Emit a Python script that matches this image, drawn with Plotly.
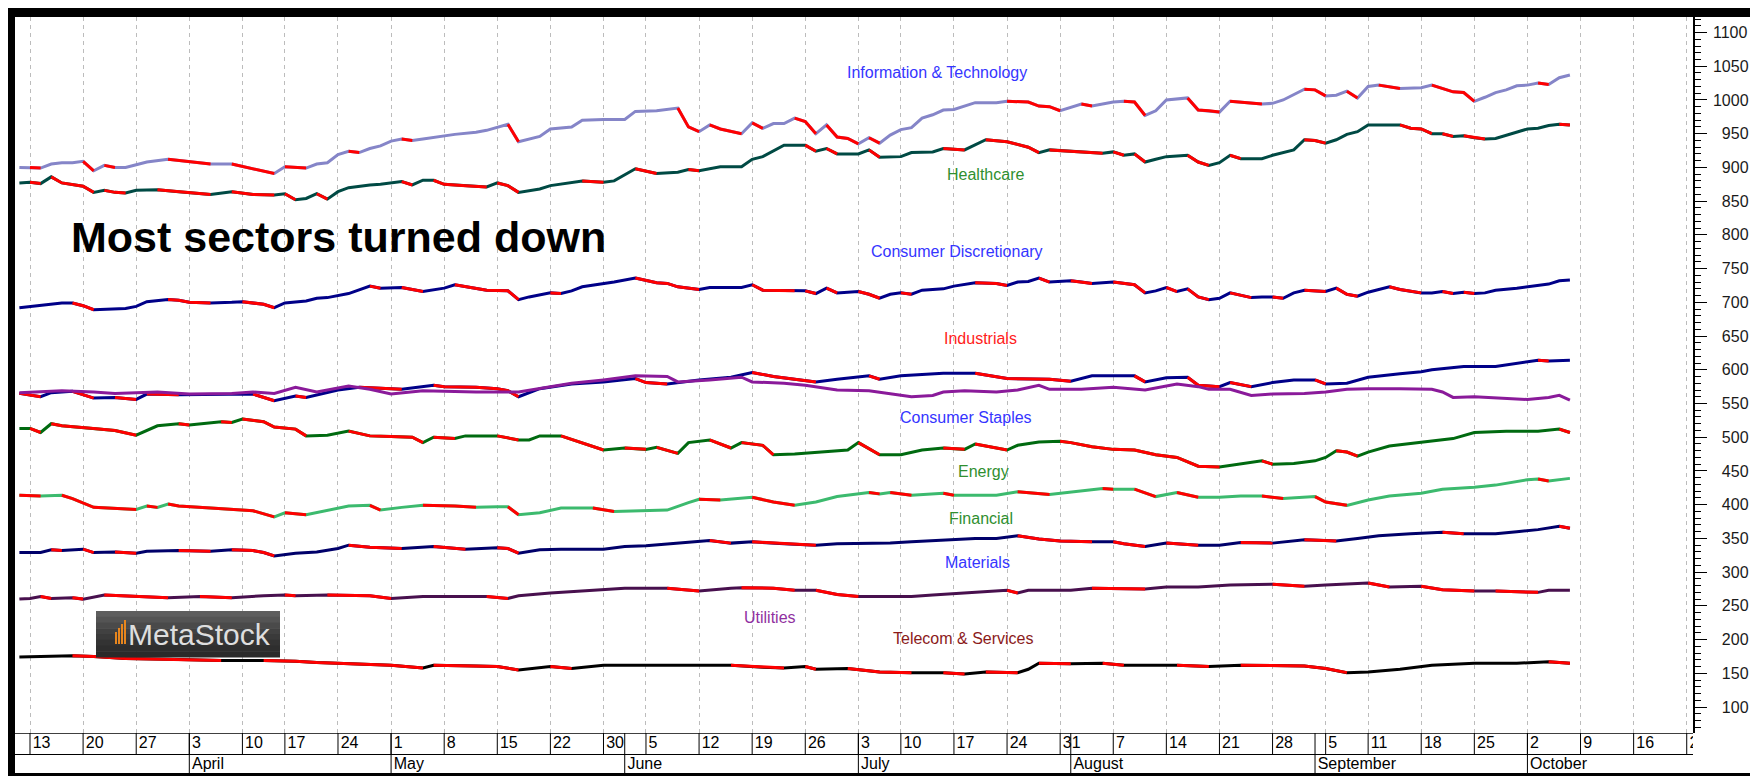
import plotly.graph_objects as go
import pandas as pd

# ---------------- data (trading-day number, 0 = 13 Mar 2017) ----------------
HOLIDAYS = ["2017-04-14", "2017-05-29", "2017-07-04", "2017-09-04"]

IT_DAY = [-1,0,1,2,3,4,5,6,7,8,9,10,11,13,15,17,19,21,23,24,26,27,28,29,30,31,32,33,34,35,36,37,39,40,42,43,45,46,48,49,51,52,54,56,57,59,61,62,63,64,65,67,68,69,70,71,72,73,74,75,76,77,78,79,80,81,82,83,84,85,86,87,89,91,92,94,95,96,97,99,100,102,103,104,105,106,107,109,110,111,112,113,115,116,117,118,120,121,122,123,124,125,126,127,129,130,131,132,134,135,136,137,138,139,140,141,142,143,144,145]
IT_VAL = [900,900,899,905,907,907,909,895,903,900,900,904,908,912,908,905,905,898,891,901,899,905,907,919,924,922,928,932,939,942,940,942,947,949,952,955,964,938,946,957,960,970,971,971,983,984,988,960,953,963,957,950,966,958,965,965,973,968,950,963,945,943,935,944,936,948,956,959,973,978,985,986,996,996,998,997,991,990,984,994,991,997,998,997,977,984,1000,1003,985,984,982,998,995,994,995,1000,1016,1015,1006,1007,1013,1003,1020,1022,1017,1017,1018,1022,1012,1011,998,1004,1011,1015,1021,1022,1025,1023,1033,1037]

HC_DAY = [-1,0,1,2,3,5,6,7,8,9,10,12,14,15,17,19,20,21,23,24,25,26,27,28,29,30,32,33,35,36,37,38,39,41,43,44,45,46,48,49,52,54,55,57,59,61,62,63,65,67,68,69,71,73,74,75,76,78,79,80,82,83,85,86,88,90,92,94,95,96,99,101,102,103,104,105,106,107,109,110,111,112,113,114,116,117,119,120,121,122,123,124,125,126,128,129,130,131,132,133,134,135,136,137,138,139,141,142,143,144,145]
HC_VAL = [877,878,876,886,877,872,863,866,863,862,866,867,864,863,860,864,862,860,859,861,852,854,861,853,864,870,874,875,879,874,881,881,875,873,871,877,873,863,868,873,880,878,880,898,891,893,897,895,901,901,912,916,933,933,924,928,920,920,926,915,916,922,923,928,926,941,938,930,922,926,923,921,923,918,920,908,912,916,918,908,903,907,918,913,913,918,926,941,940,936,941,949,953,963,963,963,958,957,950,950,946,947,944,942,943,948,957,958,962,964,963]

CD_DAY = [-1,0,2,3,4,5,6,8,9,10,11,13,14,15,17,19,20,22,23,24,26,27,28,30,31,32,33,35,37,39,40,42,43,45,46,47,49,50,51,52,54,55,57,58,59,60,61,63,64,67,68,69,72,73,74,75,76,78,79,80,81,82,83,84,86,87,89,91,92,93,94,95,96,98,99,100,102,104,105,106,107,108,109,110,111,112,113,114,115,116,117,118,119,120,122,123,124,125,126,128,129,131,132,133,134,135,136,137,138,140,141,143,144,145]
CD_VAL = [692,694,698,699,699,695,689,691,691,694,701,704,703,700,699,700,701,697,692,699,702,706,707,713,718,724,721,722,716,721,726,721,718,717,704,708,714,713,717,723,727,730,736,733,729,728,723,719,722,722,726,718,717,717,713,721,714,716,712,706,712,714,712,718,720,724,729,728,725,730,731,736,730,732,730,728,730,726,714,717,722,716,720,708,704,706,714,711,707,708,708,706,714,718,716,721,712,709,715,723,719,714,714,716,713,715,713,714,718,721,723,727,732,733]

IN_DAY = [-1,1,2,4,6,8,10,11,14,18,21,23,25,26,29,31,35,38,39,42,44,45,46,48,51,54,57,58,60,63,66,68,70,72,74,76,79,80,82,86,89,92,96,98,100,104,105,107,109,110,112,113,115,117,119,121,122,124,126,129,131,132,134,135,138,140,142,143,144,145]
IN_VAL = [565,560,566,568,558,559,556,564,563,564,564,554,561,559,570,574,571,577,575,574,572,569,560,572,579,582,587,581,579,585,589,596,590,586,582,586,591,586,591,595,595,587,586,583,591,591,582,588,589,577,575,581,575,581,585,585,579,580,589,594,597,600,603,605,605,610,614,613,614,614]

CS_DAY = [-1,1,3,6,8,12,15,19,21,23,25,27,30,32,34,37,42,46,49,51,54,57,60,61,64,67,68,71,73,76,79,81,83,85,86,88,91,93,95,96,99,102,105,108,110,111,113,115,117,120,122,124,126,129,132,133,134,136,139,141,143,144,145]
CS_VAL = [566,567,569,567,565,567,564,565,567,565,574,567,576,571,564,569,567,567,575,580,585,591,590,582,585,589,582,580,577,570,569,565,560,562,567,569,567,570,577,571,571,574,570,579,575,571,571,562,564,565,567,571,572,572,571,567,559,560,558,556,559,562,555]

EN_DAY = [-1,0,1,2,3,6,8,10,12,14,15,18,19,20,22,23,25,26,28,30,32,34,36,37,38,40,41,44,46,47,48,50,52,54,56,58,59,61,62,64,66,67,69,70,72,74,77,78,80,82,84,86,88,89,92,93,95,97,98,100,102,104,106,108,109,110,112,114,116,117,119,121,122,123,124,125,126,128,131,134,136,139,142,144,145]
EN_VAL = [513,513,507,520,517,513,510,503,517,520,518,523,522,527,523,515,512,502,503,509,502,501,500,492,500,498,502,502,496,496,502,502,491,481,484,482,485,476,492,496,484,492,488,474,475,477,481,492,474,474,481,484,482,490,481,488,493,494,492,486,482,481,474,470,464,457,456,460,465,460,461,465,470,480,478,472,478,487,493,498,507,509,509,512,507]

FI_DAY = [-1,1,3,4,6,8,10,11,12,13,14,17,19,21,23,24,26,28,30,32,33,35,37,40,42,44,45,46,48,50,53,55,58,60,62,63,65,68,70,72,74,76,79,80,81,83,86,87,91,93,96,98,101,102,104,106,108,110,112,114,116,118,121,122,124,126,128,131,133,136,138,141,142,143,145]
FI_VAL = [414,413,414,409,396,395,393,398,396,401,398,395,393,391,382,388,385,391,398,399,392,396,399,398,396,397,397,385,388,395,395,390,391,392,403,408,407,411,404,399,404,412,418,416,418,414,417,414,414,419,415,419,424,423,423,412,418,411,411,413,413,409,412,404,399,407,413,417,423,426,429,437,438,435,439]

MA_DAY = [-1,1,2,3,5,6,8,10,11,14,17,19,21,22,23,25,27,29,30,32,35,38,41,44,45,46,48,50,54,56,58,62,64,66,68,71,74,76,79,81,83,86,89,91,93,95,97,100,102,103,105,107,110,112,114,117,120,122,123,125,127,130,133,135,138,140,142,144,145]
MA_VAL = [329,329,333,332,334,329,330,328,331,332,331,333,332,329,324,328,330,335,340,337,335,338,334,336,335,328,333,334,334,338,339,344,347,343,345,342,340,342,343,343,345,348,350,350,354,349,346,345,345,342,338,343,340,340,344,343,348,347,346,350,354,357,359,357,357,360,363,368,365]

UT_DAY = [-1,0,1,2,4,5,7,9,11,13,16,19,22,24,25,28,32,34,37,40,43,45,46,49,52,56,60,63,66,67,70,72,74,76,78,83,85,88,92,93,94,98,100,105,107,110,113,117,120,122,124,126,128,131,133,136,138,140,142,143,145]
UT_VAL = [260,261,264,261,262,260,266,265,264,262,264,262,265,266,265,266,265,261,264,264,264,261,265,269,272,276,276,272,276,277,276,273,273,267,264,264,266,269,273,269,273,273,276,275,278,278,281,282,279,281,283,284,278,279,274,272,272,271,270,273,273]

TE_DAY = [-1,1,4,6,9,13,18,22,25,27,31,34,37,38,42,44,46,49,51,54,61,66,69,71,73,74,77,80,83,86,88,90,93,94,95,98,101,103,108,111,114,120,122,124,126,129,132,136,140,143,145]
TE_VAL = [174,175,176,175,172,171,169,169,168,166,164,162,158,162,161,160,155,160,157,162,162,162,159,158,160,156,157,152,151,151,149,152,151,156,165,164,165,162,162,160,162,161,157,151,152,156,162,165,165,167,165]

LABELS = ["Information & Technology", "Healthcare", "Consumer Discretionary", "Industrials",
          "Consumer Staples", "Energy", "Financial", "Materials", "Utilities", "Telecom & Services"]
LABEL_COLORS = ["#3535ff", "#2f8f2f", "#3535ff", "#ff2020", "#3535ff", "#2f8f2f", "#2f8f2f",
                "#3535ff", "#9030a0", "#8b1a1a"]
LABEL_X = [85.4, 90.0, 87.3, 89.5, 88.1, 89.8, 89.5, 89.2, 69.7, 87.9]
LABEL_Y = [1040, 889, 775, 646, 529, 449, 379, 315, 232, 202]

TITLE = "Most sectors turned down"
Y_TICKS = list(range(100, 1101, 50))

# ---------------- geometry helpers ----------------
# The page body adds an 8px margin, so the figure itself starts 8px in from the window corner.
OFF = 8
W, H = 1758 - OFF, 776 - OFF
ML, MR, MT, MB = 14 - OFF, 65, 17 - OFF, 0
PW, PH = W - ML - MR, H - MT - MB


def px_x(px):  # window px -> paper
    return (px - OFF - ML) / PW


def px_y(py):
    return (H - MB - (py - OFF)) / PH


X_RANGE = [-1.507, 156.59]
Y_RANGE = [61.5, 1123.0]
BOT = px_y(733)

# ---------------- calendar ----------------
all_days = pd.bdate_range("2017-03-09", "2017-10-31")
trading = [d for d in all_days if d.strftime("%Y-%m-%d") not in HOLIDAYS]
base = trading.index(pd.Timestamp("2017-03-13"))
week_pos, week_txt, month_pos, month_txt = [], [], [], []
prev_w, prev_m = None, None
for i, d in enumerate(trading):
    n = i - base
    w = d.isocalendar()[1]
    if w != prev_w:
        if 0 <= n <= 157:
            week_pos.append(n)
            week_txt.append(str(d.day))
        prev_w = w
    if d.month != prev_m:
        if 0 <= n <= 157:
            month_pos.append(n)
            month_txt.append(d.strftime("%B"))
        prev_m = d.month


def down_segments(days, vals):
    xs, ys = [], []
    last = None
    for i in range(len(vals) - 1):
        if vals[i + 1] < vals[i]:
            if last == i:
                xs.append(days[i + 1]); ys.append(vals[i + 1])
            else:
                if xs:
                    xs.append(None); ys.append(None)
                xs += [days[i], days[i + 1]]; ys += [vals[i], vals[i + 1]]
            last = i + 1
    return xs, ys


SERIES = [
    (IT_DAY, IT_VAL, "#8585c8", True),
    (HC_DAY, HC_VAL, "#004a44", True),
    (CD_DAY, CD_VAL, "#000088", True),
    (IN_DAY, IN_VAL, "#000088", True),
    (CS_DAY, CS_VAL, "#8a1a9a", False),
    (EN_DAY, EN_VAL, "#006a10", True),
    (FI_DAY, FI_VAL, "#3cba6e", True),
    (MA_DAY, MA_VAL, "#00006a", True),
    (UT_DAY, UT_VAL, "#48104e", True),
    (TE_DAY, TE_VAL, "#000000", True),
]

fig = go.Figure()
for days, vals, col, red in SERIES:
    fig.add_trace(go.Scatter(x=days, y=vals, mode="lines", line=dict(color=col, width=3),
                             hoverinfo="skip", showlegend=False, xaxis="x", yaxis="y"))
    if red:
        rx, ry = down_segments(days, vals)
        fig.add_trace(go.Scatter(x=rx, y=ry, mode="lines", line=dict(color="#ff0000", width=3),
                                 connectgaps=False, hoverinfo="skip", showlegend=False,
                                 xaxis="x", yaxis="y"))

FONT = "Liberation Sans, Arial, sans-serif"
# date rows (bottom strip)
fig.add_trace(go.Scatter(x=[p + 0.25 for p in week_pos], y=[1.5] * len(week_pos), text=week_txt,
                         mode="text", textposition="middle right",
                         textfont=dict(family=FONT, size=16, color="#000000"),
                         cliponaxis=True, hoverinfo="skip", showlegend=False, xaxis="x2", yaxis="y2"))
fig.add_trace(go.Scatter(x=[p + 0.25 for p in month_pos], y=[0.5] * len(month_pos), text=month_txt,
                         mode="text", textposition="middle right",
                         textfont=dict(family=FONT, size=16, color="#000000"),
                         cliponaxis=True, hoverinfo="skip", showlegend=False, xaxis="x2", yaxis="y2"))

shapes = []
for p in week_pos:
    shapes.append(dict(type="line", xref="x2", yref="y2", x0=p, x1=p, y0=1, y1=2,
                       line=dict(color="black", width=1)))
for p in month_pos:
    shapes.append(dict(type="line", xref="x2", yref="y2", x0=p, x1=p, y0=0, y1=2,
                       line=dict(color="black", width=1)))
shapes.append(dict(type="line", xref="paper", yref="y2", x0=0, x1=1, y0=2, y1=2,
                   line=dict(color="black", width=1.5)))
shapes.append(dict(type="line", xref="paper", yref="y2", x0=0, x1=1, y0=1, y1=1,
                   line=dict(color="black", width=1)))
# thick frame
shapes.append(dict(type="rect", xref="paper", yref="paper", x0=px_x(8), x1=px_x(1758),
                   y0=px_y(17), y1=px_y(8), fillcolor="black", line=dict(width=0)))
shapes.append(dict(type="rect", xref="paper", yref="paper", x0=px_x(8), x1=px_x(15),
                   y0=px_y(776), y1=px_y(8), fillcolor="black", line=dict(width=0)))
shapes.append(dict(type="rect", xref="paper", yref="paper", x0=px_x(8), x1=px_x(1758),
                   y0=px_y(776), y1=px_y(773), fillcolor="black", line=dict(width=0)))

# MetaStock logo (gradient band stack)
logo_cols = ["#5e5e5e", "#545454", "#4a4a4a", "#414141", "#3a3a3a", "#333333", "#2e2e2e", "#2a2a2a"]
ly0, ly1 = 611, 657
band = (ly1 - ly0) / len(logo_cols)
for k, c in enumerate(logo_cols):
    shapes.append(dict(type="rect", xref="paper", yref="paper", x0=px_x(96), x1=px_x(280),
                       y0=px_y(ly0 + band * (k + 1) + 0.5), y1=px_y(ly0 + band * k),
                       fillcolor=c, line=dict(width=0), layer="above"))
for k, top in enumerate([632, 628, 624, 620]):
    x0 = 115 + k * 3
    shapes.append(dict(type="rect", xref="paper", yref="paper", x0=px_x(x0), x1=px_x(x0 + 2),
                       y0=px_y(644), y1=px_y(top), fillcolor="#e8861e", line=dict(width=0),
                       layer="above"))

annotations = []
for t, c, x, y in zip(LABELS, LABEL_COLORS, LABEL_X, LABEL_Y):
    annotations.append(dict(text=t, x=x, y=y, xref="x", yref="y", showarrow=False,
                            xanchor="center", yanchor="middle",
                            font=dict(family=FONT, size=16, color=c)))
annotations.append(dict(text="<b>" + TITLE + "</b>", x=px_x(69), y=px_y(237), xref="paper",
                        yref="paper", showarrow=False, xanchor="left", yanchor="middle",
                        font=dict(family=FONT, size=43, color="black")))
annotations.append(dict(text="MetaStock", x=px_x(199), y=px_y(634), xref="paper", yref="paper",
                        showarrow=False, xanchor="center", yanchor="middle",
                        font=dict(family=FONT, size=30, color="#dedede")))

tick_text = [("\u2007" * (4 - len(str(v)))) + str(v) for v in Y_TICKS]

fig.update_layout(
    width=W, height=H,
    margin=dict(l=ML, r=MR, t=MT, b=MB, pad=0),
    paper_bgcolor="white", plot_bgcolor="white",
    showlegend=False,
    xaxis=dict(domain=[0, 1], anchor="y", range=X_RANGE, tickvals=week_pos, showticklabels=False,
               ticks="", showgrid=True, gridcolor="#bcbcbc", gridwidth=1, griddash="4px,4px",
               zeroline=False, showline=False, fixedrange=True),
    yaxis=dict(domain=[BOT, 1], anchor="x", side="right", range=Y_RANGE, tickvals=Y_TICKS,
               ticktext=tick_text, ticks="outside", ticklen=12, tickwidth=1, tickcolor="black",
               showline=True, linecolor="black", linewidth=1.5, showgrid=False, zeroline=False,
               ticklabelstandoff=3,
               tickfont=dict(family=FONT, size=16, color="#1a1a1a"),
               minor=dict(dtick=10, ticks="outside", ticklen=6, tickcolor="black", tickwidth=1,
                          showgrid=False),
               fixedrange=True),
    xaxis2=dict(domain=[0, 1], anchor="y2", range=X_RANGE, visible=False, fixedrange=True),
    yaxis2=dict(domain=[0, BOT], anchor="x2", range=[0, 2], visible=False, fixedrange=True),
    shapes=shapes,
    annotations=annotations,
)

fig.write_html("out.html")
